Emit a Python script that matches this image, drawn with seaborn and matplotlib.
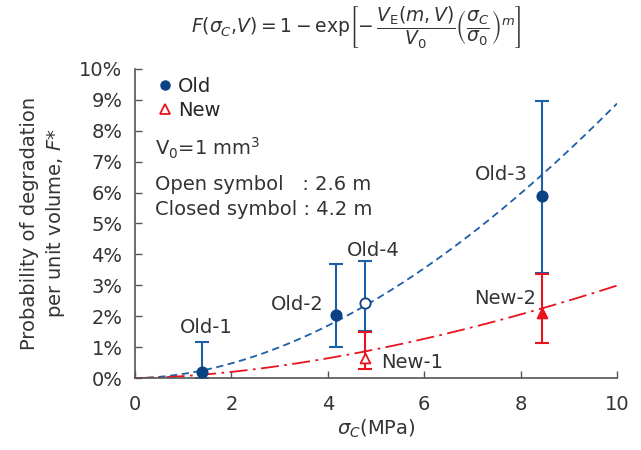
import numpy as np
import pandas as pd
import matplotlib
matplotlib.use("Agg")
import matplotlib.pyplot as plt
from matplotlib.lines import Line2D
from matplotlib.ticker import FuncFormatter
import seaborn as sns

# points (stress in MPa, probability in %)
labels = ["Old-1", "Old-2", "Old-3", "Old-4", "New-1", "New-2"]
groups = ["Old", "Old", "Old", "Old", "New", "New"]
filled = [True, True, True, False, False, True]
stress = [1.40, 4.16, 8.44, 4.77, 4.77, 8.44]
prob = [0.20, 2.03, 5.89, 2.44, 0.65, 2.09]
err_lo = [0.00, 0.99, 3.39, 1.53, 0.28, 1.13]
err_hi = [1.17, 3.70, 8.97, 3.79, 1.48, 3.37]

# fitted Weibull curves: F = 1 - exp(-(s/s0)^m)
fit_m = {"Old": 1.85, "New": 1.70}
fit_s0 = {"Old": 36.1, "New": 78.1}

BLUE = "#1d5ea8"
DARK_BLUE = "#0b4283"
RED = "#e8131d"
TXT = "#333333"
FS = 14

df = pd.DataFrame({"label": labels, "group": groups, "filled": filled,
                   "x": stress, "y": prob, "lo": err_lo, "hi": err_hi})

sns.set_theme(style="ticks")
plt.rcParams["font.family"] = ["DejaVu Sans"]
plt.rcParams["mathtext.fontset"] = "dejavusans"

fig = plt.figure(figsize=(6.41, 4.5), dpi=100)
ax = fig.add_axes([0.2106, 0.16, 0.752, 0.6867])

xs = np.linspace(0, 10, 200)
for grp, color, dash in [("Old", BLUE, (4, 2.5)), ("New", RED, (10, 3, 1.5, 3))]:
    ys = (1 - np.exp(-(xs / fit_s0[grp]) ** fit_m[grp])) * 100
    sns.lineplot(x=xs, y=ys, ax=ax, color=color, lw=1.3)
    ax.lines[-1].set_dashes(dash)

for _, r in df.iterrows():
    color = BLUE if r["group"] == "Old" else RED
    ax.errorbar(r["x"], r["y"], yerr=[[r["y"] - r["lo"]], [r["hi"] - r["y"]]],
                fmt="none", ecolor=color, elinewidth=1.5, capsize=5, capthick=1.5)

for grp, marker, color, size in [("Old", "o", DARK_BLUE, 55), ("New", "^", RED, 50)]:
    for fill in [True, False]:
        sub = df[(df["group"] == grp) & (df["filled"] == fill)]
        if sub.empty:
            continue
        sns.scatterplot(data=sub, x="x", y="y", ax=ax, marker=marker, s=size,
                        color=color if fill else "white", edgecolor=color,
                        linewidth=1.3, zorder=5)

label_pos = {"Old-1": (1.47, 1.62, "center"), "Old-2": (3.92, 2.39, "right"),
             "Old-4": (4.94, 4.12, "center"), "New-1": (5.1, 0.51, "left"),
             "Old-3": (8.15, 6.6, "right"), "New-2": (8.32, 2.56, "right")}
for lab, (tx, ty, ha) in label_pos.items():
    ax.text(tx, ty, lab, ha=ha, va="center", fontsize=FS, color=TXT)

handles = [Line2D([], [], ls="none", marker="o", ms=6.5, color=DARK_BLUE),
           Line2D([], [], ls="none", marker="^", ms=6.5, mfc="white", mec=RED, mew=1.3)]
ax.legend(handles, ["Old", "New"], loc="upper left", frameon=False, fontsize=FS,
          handletextpad=0.2, handlelength=1.0, borderaxespad=0.0,
          labelspacing=0.25, bbox_to_anchor=(0.025, 1.0))

ax.text(0.41, 7.44, r"V$_0$=1 mm$^3$", fontsize=FS, color=TXT, va="center")
ax.text(0.41, 6.25, "Open symbol   : 2.6 m", fontsize=FS, color=TXT, va="center")
ax.text(0.41, 5.44, "Closed symbol : 4.2 m", fontsize=FS, color=TXT, va="center")

fig.text(0.555, 0.94,
         r"$F(\sigma_C{,}V) = 1-\mathrm{exp}\left[-\,\dfrac{V_{\mathrm{E}}(m,V)}{V_0}"
         r"\left(\dfrac{\sigma_C}{\sigma_0}\right)^m\right]$",
         ha="center", va="center", fontsize=13.5, color=TXT)

ax.set_xlim(0, 10)
ax.set_ylim(0, 10)
ax.set_xticks(range(0, 11, 2))
ax.set_yticks(range(0, 11))
ax.yaxis.set_major_formatter(FuncFormatter(lambda v, p: f"{v:.0f}%"))
ax.tick_params(direction="in", length=5, width=1, color="#555555",
               labelsize=FS, labelcolor=TXT, pad=9)
ax.tick_params(axis="x", pad=12)
for side in ["top", "right"]:
    ax.spines[side].set_visible(False)
for side in ["left", "bottom"]:
    ax.spines[side].set_color("#555555")
    ax.spines[side].set_linewidth(1.2)

ax.set_xlabel(r"$\sigma_C$(MPa)", fontsize=FS, color=TXT, labelpad=3)
ax.set_ylabel("Probability of degradation\nper unit volume, $F$*",
              fontsize=FS, color=TXT, labelpad=9, linespacing=1.3)

fig.savefig("out.png", dpi=100)
